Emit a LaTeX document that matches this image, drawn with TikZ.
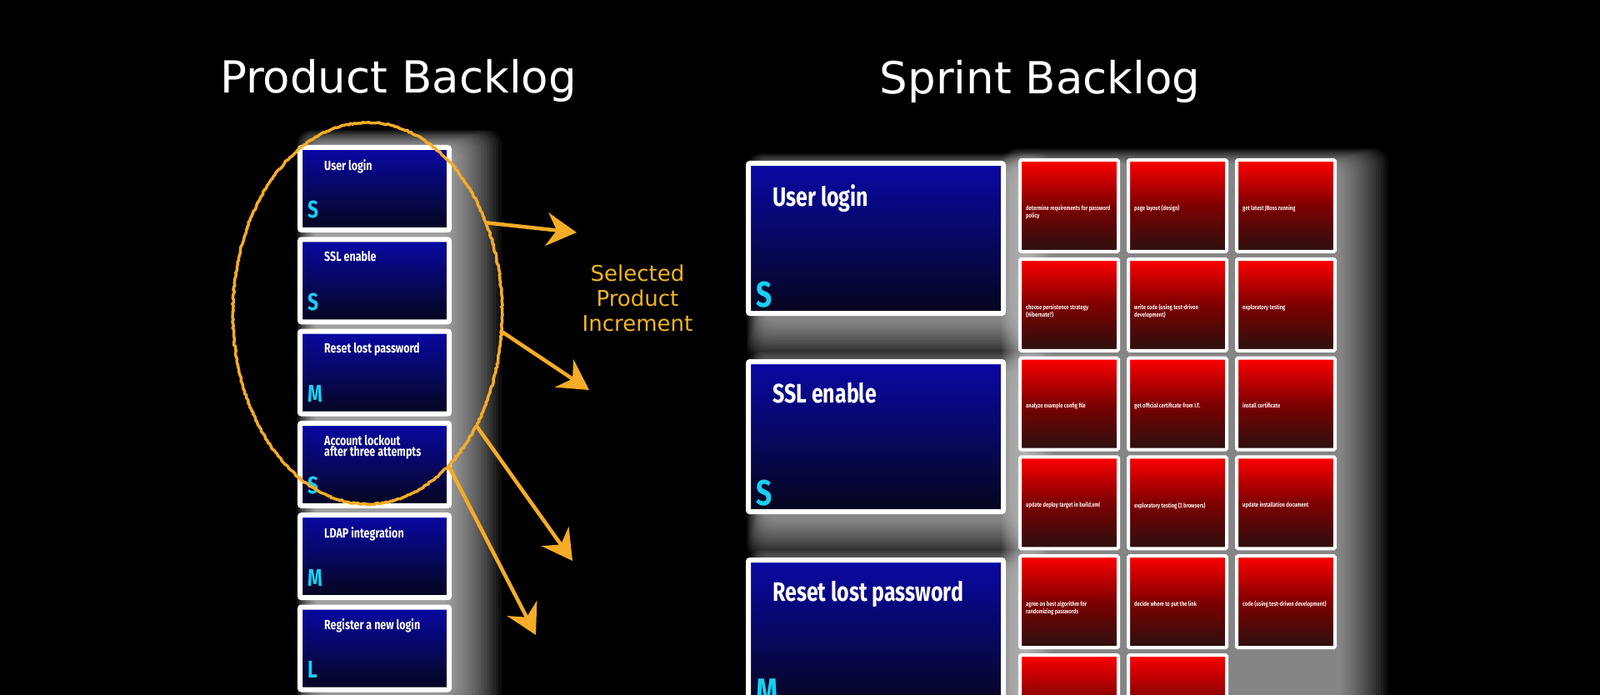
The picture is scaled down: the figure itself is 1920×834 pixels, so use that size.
\documentclass[tikz,border=0pt]{standalone}
\usepackage{fontspec}
\usepackage{tikz}
\usetikzlibrary{
	arrows.meta, shapes.geometric, positioning, calc,
	decorations.pathmorphing
}
\setmainfont{DejaVu Sans}
\newfontfamily\cardfont[FakeStretch=0.78]{Fira Sans}
\definecolor{chalk}     {RGB}{245, 172,  38}
\definecolor{goldtext}  {RGB}{242, 182,  30}
\definecolor{sizecyan}  {RGB}{ 22, 208, 240}
\definecolor{cardtop}   {RGB}{  8,   8, 165}
\definecolor{cardbottom}{RGB}{  6,   6,  28}
\definecolor{taskmid}   {RGB}{125,   0,   0}
\definecolor{taskbottom}{RGB}{ 42,  16,  16}

\begin{document}
\begin{tikzpicture}[x=1pt, y=-1pt,
	story/.style={draw=white, line width=6pt, rounded corners=2pt, inner sep=0pt, outer sep=0pt,
		anchor=north west, top color=cardtop, bottom color=cardbottom},
	task/.style={draw=white, line width=4pt, rounded corners=1.5pt, inner sep=0pt, outer sep=0pt,
		minimum width=118pt, minimum height=110pt, anchor=north west,
		top color=red, bottom color=taskbottom, middle color=taskmid},
	glow/.style={fill=white, opacity=0.04, rounded corners=18pt},
	title/.style={font=\fontsize{53}{60}\selectfont, text=white, anchor=base},
	storytext/.style={font=\cardfont\bfseries\fontsize{16}{13}\selectfont, text=white,
		anchor=north west, align=left, inner sep=0pt},
	bigtext/.style={font=\cardfont\bfseries\fontsize{32}{34}\selectfont, text=white,
		anchor=north west, inner sep=0pt},
	sizetext/.style={font=\cardfont\bfseries\fontsize{29}{29}\selectfont, text=sizecyan,
		anchor=base west, inner sep=0pt},
	bigsize/.style={font=\cardfont\bfseries\fontsize{43}{43}\selectfont, text=sizecyan,
		anchor=base west, inner sep=0pt},
	tasktext/.style={font=\cardfont\bfseries\fontsize{7.5}{7.5}\selectfont, text=white!92!red,
		anchor=north west, align=left, inner sep=0pt},
	chalkarrow/.style={draw=chalk, line width=4.5pt, line cap=round,
		-{Stealth[length=36pt, width=40pt, inset=12pt]}}
]
\useasboundingbox (0,0) rectangle (1920,834);
\clip (0,0) rectangle (1920,834);
\fill[black] (0,0) rectangle (1920,834);

% glow behind the cards
\foreach \k in {1,...,20}
	\fill[glow, opacity=0.05] ({380-1.2*\k}, {180-1.2*\k}) rectangle ({532+3.5*\k}, {830+1.5*\k});
\foreach \k in {1,...,20}
	\fill[glow] ({1232-1.5*\k}, {198-1*\k}) rectangle ({1606+3*\k}, {860+3*\k});
\foreach \i in {0,1,2}
	\foreach \k in {1,...,20}
		\fill[glow] ({916-1*\k}, {204+238*\i-1*\k}) rectangle ({1212+2.5*\k}, {384+238*\i+2.5*\k});

% product backlog
\foreach \ttl/\sz [count=\i from 0] in {User login/S, SSL enable/S, Reset lost password/M,
	{Account lockout\\after three attempts}/S, LDAP integration/M, Register a new login/L}
{
	\node[story, minimum width=179pt, minimum height=99pt] (pb\i) at (360, {177+110.3*\i}) {};
	\node[storytext] (pbt\i) at ([xshift=29pt, yshift=-14pt]pb\i.north west) {\ttl};
	\node[sizetext] (pbs\i) at ([xshift=9pt, yshift=14pt]pb\i.south west) {\sz};
}

% sprint backlog
\foreach \ttl/\sz [count=\i from 0] in {User login/S, SSL enable/S, Reset lost password/M}
{
	\node[story, minimum width=306pt, minimum height=180pt] (sb\i) at (898, {196+238*\i}) {};
	\node[bigtext] (sbt\i) at ([xshift=29pt, yshift=-25pt]sb\i.north west) {\ttl};
	\node[bigsize] (sbs\i) at ([xshift=9pt, yshift=8pt]sb\i.south west) {\sz};
}

\foreach \txt [count=\n from 0] in {
	{determine requirements for password\\policy}, {page layout (design)}, {get latest JBoss running},
	{choose persistence strategy\\(Hibernate?)}, {write code (using test-driven\\development)}, {exploratory testing},
	{analyze example config file}, {get official certificate from I.T.}, {install certificate},
	{update deploy target in build.xml}, {exploratory testing (3 browsers)}, {update installation document},
	{agree on best algorithm for\\randomizing passwords}, {decide where to put the link}, {code (using test-driven development)},
	{}, {}}
{
	\pgfmathsetmacro\cx{1224+130*mod(\n,3)}
	\pgfmathsetmacro\cy{192+118.8*div(\n,3)}
	\node[task] (t\n) at (\cx,\cy) {};
	\node[tasktext] (tt\n) at ([xshift=7pt, yshift=-54pt]t\n.north west) {\txt};
}

% selection and arrows
\node[ellipse, draw=chalk, line width=3.5pt, minimum width=323pt, minimum height=458pt,
	decoration={random steps, segment length=2.5pt, amplitude=0.8pt}, decorate] (sel) at (441,376) {};

\coordinate (tip1) at (692,279);
\coordinate (tip2) at (707,468);
\coordinate (tip3) at (687,673);
\coordinate (tip4) at (643,762);
\draw[chalkarrow] (sel.37) -- (tip1);
\draw[chalkarrow] (sel.-8) -- (tip2);
\draw[chalkarrow] (sel.-46) -- (tip3);
\draw[chalkarrow] (sel.-62) -- (tip4);

\node[font=\fontsize{26}{30}\selectfont, text=goldtext, align=center] (inc) at (765,358)
	{Selected\\Product\\Increment};

\node[title] (pbtitle) at (478,112) {Product Backlog};
\node[title] (sbtitle) at (1248,113) {Sprint Backlog};
\end{tikzpicture}
\end{document}
